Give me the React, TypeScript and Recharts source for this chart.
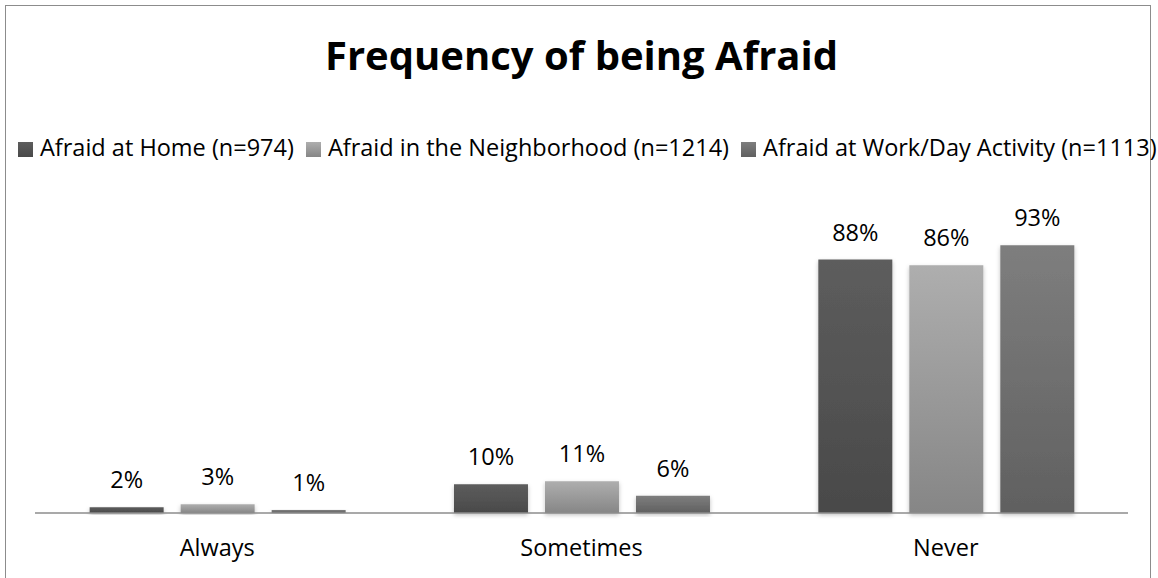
import React from 'react';
import { BarChart, Bar, XAxis, YAxis, LabelList } from 'recharts';

const title = 'Frequency of being Afraid';
const categories = ['Always', 'Sometimes', 'Never'];
const seriesNames = [
  'Afraid at Home (n=974)',
  'Afraid in the Neighborhood (n=1214)',
  'Afraid at Work/Day Activity (n=1113)',
];
const afraidAtHome = [2, 10, 88];
const afraidInNeighborhood = [3, 11, 86];
const afraidAtWork = [1, 6, 93];

const FONT = '"Open Sans", Lato, sans-serif';
const TEXT_SIZE = 23.5;

const data = categories.map((category, i) => ({
  category,
  home: afraidAtHome[i],
  neighborhood: afraidInNeighborhood[i],
  work: afraidAtWork[i],
}));

const series = [
  { key: 'home', name: seriesNames[0], top: '#5d5d5d', bottom: '#494949' },
  { key: 'neighborhood', name: seriesNames[1], top: '#aeaeae', bottom: '#868686' },
  { key: 'work', name: seriesNames[2], top: '#7e7e7e', bottom: '#606060' },
];

const LegendRow = () => (
  <div
    style={{
      position: 'absolute',
      left: 18,
      top: 136,
      display: 'flex',
      alignItems: 'center',
      whiteSpace: 'nowrap',
      fontFamily: FONT,
      fontSize: TEXT_SIZE,
      lineHeight: `${TEXT_SIZE}px`,
      color: '#000',
    }}
  >
    {series.map((s, i) => (
      <div key={s.key} style={{ display: 'flex', alignItems: 'center', marginRight: i < series.length - 1 ? 12 : 0 }}>
        <div
          style={{
            width: 15,
            height: 15,
            marginRight: 7,
            marginTop: 3,
            background: `linear-gradient(${s.top}, ${s.bottom})`,
          }}
        />
        <span>{s.name}</span>
      </div>
    ))}
  </div>
);

export default function App() {
  return (
    <div style={{ position: 'absolute', left: 0, top: 0, width: 1158, height: 578, overflow: 'hidden', background: '#fff' }}>
      <div
        style={{
          position: 'absolute',
          left: 5,
          top: 5,
          width: 1146,
          height: 640,
          border: '1.5px solid #8c8c8c',
          boxSizing: 'border-box',
        }}
      />
      <div
        style={{
          position: 'absolute',
          left: 0,
          top: 34.5,
          width: 1163,
          textAlign: 'center',
          fontFamily: FONT,
          fontWeight: 700,
          fontSize: 40,
          lineHeight: '40px',
          color: '#000',
        }}
      >
        {title}
      </div>
      <LegendRow />
      <div style={{ position: 'absolute', left: 0, top: 0 }}>
        <BarChart
          width={1158}
          height={578}
          data={data}
          margin={{ top: 225, right: 30, bottom: 0, left: 35 }}
          barCategoryGap="15%"
          barGap={17}
        >
          <defs>
            {series.map((s) => (
              <linearGradient key={s.key} id={`grad-${s.key}`} x1="0" y1="0" x2="0" y2="1">
                <stop offset="0%" stopColor={s.top} />
                <stop offset="100%" stopColor={s.bottom} />
              </linearGradient>
            ))}
            <filter id="barShadow" x="-20%" y="-20%" width="140%" height="140%">
              <feDropShadow dx="0" dy="2" stdDeviation="2" floodColor="#000" floodOpacity="0.25" />
            </filter>
          </defs>
          <XAxis
            dataKey="category"
            axisLine={{ stroke: '#8c8c8c', strokeWidth: 1.5 }}
            tickLine={false}
            tickSize={0}
            tickMargin={26}
            height={65}
            tick={{ fill: '#000', fontSize: TEXT_SIZE, fontFamily: FONT }}
          />
          <YAxis hide domain={[0, 100]} />
          {series.map((s) => (
            <Bar
              key={s.key}
              dataKey={s.key}
              name={s.name}
              fill={`url(#grad-${s.key})`}
              filter="url(#barShadow)"
              isAnimationActive={false}
            >
              <LabelList
                dataKey={s.key}
                position="top"
                offset={19}
                formatter={(v: number) => `${v}%`}
                style={{ fill: '#000', fontSize: TEXT_SIZE, fontFamily: FONT }}
              />
            </Bar>
          ))}
        </BarChart>
      </div>
    </div>
  );
}
